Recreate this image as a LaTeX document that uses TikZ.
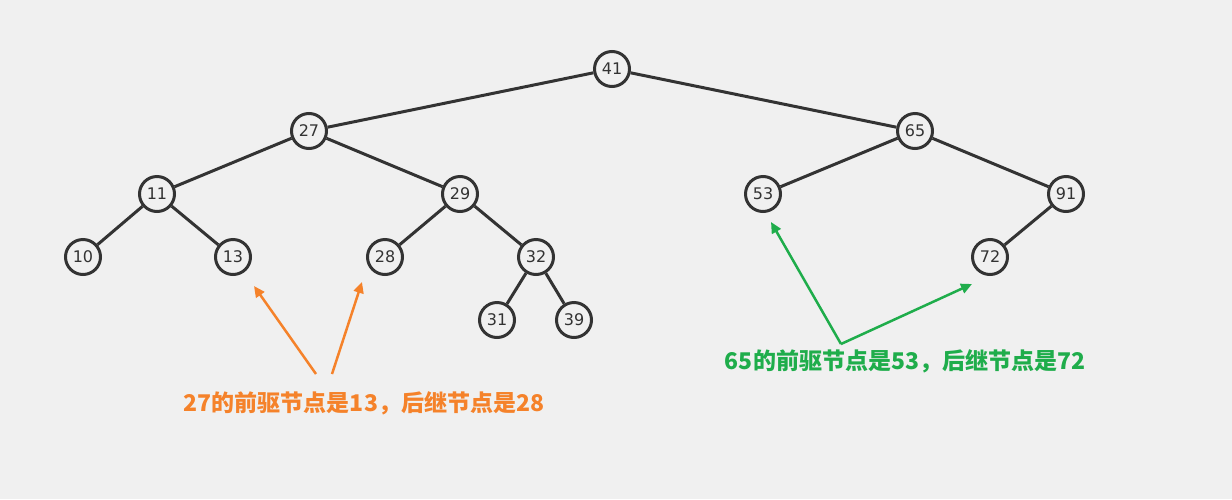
\documentclass[tikz,border=0pt]{standalone}
\usepackage{fontspec}
\newfontfamily\cjk{Noto Sans CJK SC}
\newfontfamily\numfont{DejaVu Sans}
\usetikzlibrary{arrows.meta}
\definecolor{bg}{HTML}{F0F0F0}
\definecolor{ln}{HTML}{333333}
\definecolor{org}{HTML}{F5822A}
\definecolor{grn}{HTML}{1FAD4B}
\begin{document}
\begin{tikzpicture}[x=1pt,y=-1pt,
  tn/.style={circle,draw=ln,line width=3pt,fill=bg,minimum size=35pt,inner sep=0pt,font=\numfont\fontsize{16}{18}\selectfont,text=ln},
  edge/.style={draw=ln,line width=3pt},
  oarrow/.style={draw=org,line width=2.5pt,-{Triangle[length=11pt,width=10pt]}},
  garrow/.style={draw=grn,line width=2.5pt,-{Triangle[length=11pt,width=10pt]}},
  lbl/.style={font=\cjk\bfseries\fontsize{23}{26}\selectfont}]
\fill[bg] (0,0) rectangle (1232,499);
\useasboundingbox (0,0) rectangle (1232,499);
\node[tn] (n41) at (612,69) {41};
\node[tn] (n27) at (309,131) {27};
\node[tn] (n65) at (915,131) {65};
\node[tn] (n11) at (157,194) {11};
\node[tn] (n29) at (460,194) {29};
\node[tn] (n53) at (763,194) {53};
\node[tn] (n91) at (1066,194) {91};
\node[tn] (n10) at (83,257) {10};
\node[tn] (n13) at (233,257) {13};
\node[tn] (n28) at (385,257) {28};
\node[tn] (n32) at (536,257) {32};
\node[tn] (n72) at (990,257) {72};
\node[tn] (n31) at (497,320) {31};
\node[tn] (n39) at (574,320) {39};
\foreach \a/\b in {n41/n27,n41/n65,n27/n11,n27/n29,n65/n53,n65/n91,n11/n10,n11/n13,n29/n28,n29/n32,n91/n72,n32/n31,n32/n39}
  \draw[edge] (\a) -- (\b);
\node[lbl,text=org] (lo) at (364,403) {27的前驱节点是13，后继节点是28};
\node[lbl,text=grn] (lg) at (905,361) {65的前驱节点是53，后继节点是72};
\coordinate (ot1) at (316,374);
\coordinate (ot2) at (332,374);
\coordinate (oh1) at (254,286);
\coordinate (oh2) at (362,282);
\coordinate (gt) at (841,344);
\coordinate (gh1) at (771,222);
\coordinate (gh2) at (972,284);
\draw[oarrow] (ot1) -- (oh1);
\draw[oarrow] (ot2) -- (oh2);
\draw[garrow] (gt) -- (gh1);
\draw[garrow] (gt) -- (gh2);
\end{tikzpicture}
\end{document}
